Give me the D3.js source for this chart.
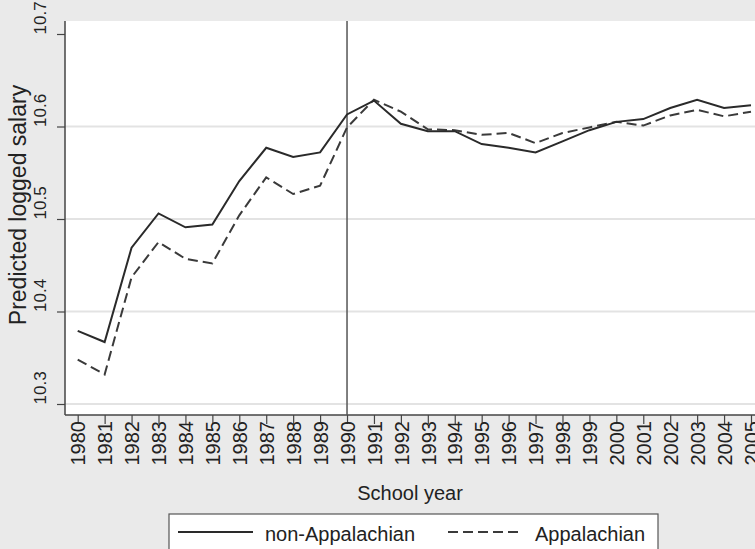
<!DOCTYPE html>
<meta charset="utf-8">
<script src="https://cdn.jsdelivr.net/npm/d3@7"></script>
<style type="text/css">
body { margin: 0; }
svg { display: block; font-family: "Liberation Sans", Arial, sans-serif; }
.grid line { stroke: #e3e3e3; stroke-width: 2; }
.line1 { fill: none; stroke: #2a2a2a; stroke-width: 2; }
.line2 { fill: none; stroke: #3a3a3a; stroke-width: 2; stroke-dasharray: 10,5; }
</style>
<body>
</body>
<script>
// data
var years = [1980,1981,1982,1983,1984,1985,1986,1987,1988,1989,1990,1991,1992,
             1993,1994,1995,1996,1997,1998,1999,2000,2001,2002,2003,2004,2005];
var nonAppalachian = [10.379,10.367,10.469,10.506,10.491,10.494,10.541,10.577,10.567,10.572,10.613,10.628,10.603,
                      10.595,10.595,10.581,10.577,10.572,10.584,10.596,10.605,10.608,10.620,10.629,10.620,10.623];
var appalachian = [10.348,10.332,10.437,10.475,10.457,10.452,10.504,10.545,10.527,10.536,10.599,10.629,10.616,
                   10.597,10.596,10.591,10.593,10.582,10.593,10.599,10.605,10.601,10.612,10.618,10.611,10.616];
var yTicks = [10.3, 10.4, 10.5, 10.6, 10.7];
var gridTicks = [10.3, 10.4, 10.5, 10.6];
var breakYear = 1990;
var legendKeys = ["non-Appalachian", "Appalachian"];

var width = 755, height = 549;
var plot = {left: 65, right: 755, top: 21, bottom: 415};

var xScale = d3.scaleLinear()
    .domain([1980, 2005])
    .range([77.7, 751]);

var yScale = d3.scaleLinear()
    .domain([10.3, 10.7])
    .range([404, 34]);

var svg = d3.select("body").append("svg")
    .attr("width", width)
    .attr("height", height);

svg.append("rect")
    .attr("width", width).attr("height", height)
    .attr("fill", "#eaeaea");

svg.append("rect")
    .attr("x", plot.left).attr("y", plot.top)
    .attr("width", plot.right - plot.left)
    .attr("height", plot.bottom - plot.top)
    .attr("fill", "#fff");

// horizontal grid
svg.append("g")
    .attr("class", "grid")
    .selectAll("line")
    .data(gridTicks)
    .enter().append("line")
    .attr("x1", plot.left).attr("x2", plot.right)
    .attr("y1", function(d) { return yScale(d); })
    .attr("y2", function(d) { return yScale(d); });

// y axis
var yAxis = svg.append("g")
    .attr("transform", "translate(" + plot.left + ",0)")
    .call(d3.axisLeft(yScale).tickValues(yTicks).tickSize(8).tickFormat(d3.format(".1f")));
yAxis.select(".domain").attr("d", "M0," + plot.top + "V" + plot.bottom).attr("stroke", "#444").attr("stroke-width", 1.5);
yAxis.selectAll(".tick line").attr("stroke", "#444").attr("stroke-width", 1.2);
yAxis.selectAll(".tick text")
    .attr("font-size", 17)
    .attr("fill", "#222")
    .attr("text-anchor", "start")
    .attr("x", 0).attr("dy", 0)
    .attr("transform", "translate(-19,0) rotate(-90)");

// x axis
var xAxis = svg.append("g")
    .attr("transform", "translate(0," + plot.bottom + ")")
    .call(d3.axisBottom(xScale).tickValues(years).tickSize(9).tickFormat(d3.format("d")));
xAxis.select(".domain").attr("d", "M" + plot.left + ",0H" + plot.right).attr("stroke", "#444").attr("stroke-width", 1.5);
xAxis.selectAll(".tick line").attr("stroke", "#444").attr("stroke-width", 1.2);
xAxis.selectAll(".tick text")
    .attr("font-size", 20)
    .attr("fill", "#222")
    .attr("text-anchor", "end")
    .attr("y", 0).attr("x", 0).attr("dy", "0.36em")
    .attr("transform", "translate(0,6) rotate(-90)");

// vertical line at 1990
svg.append("line")
    .attr("x1", xScale(breakYear)).attr("x2", xScale(breakYear))
    .attr("y1", plot.top).attr("y2", plot.bottom)
    .attr("stroke", "#555").attr("stroke-width", 1.5);

var line = d3.line()
    .x(function(d, i) { return xScale(years[i]); })
    .y(function(d) { return yScale(d); });

svg.append("path").datum(appalachian).attr("class", "line2").attr("d", line);
svg.append("path").datum(nonAppalachian).attr("class", "line1").attr("d", line);

// axis titles
svg.append("text")
    .text("Predicted logged salary")
    .attr("font-size", 23).attr("fill", "#222")
    .attr("text-anchor", "middle")
    .attr("transform", "translate(26,205) rotate(-90)");

svg.append("text")
    .text("School year")
    .attr("font-size", 20).attr("fill", "#222")
    .attr("text-anchor", "middle")
    .attr("x", 410).attr("y", 500);

// legend
svg.append("rect")
    .attr("x", 169).attr("y", 514)
    .attr("width", 489).attr("height", 50)
    .attr("fill", "#fff").attr("stroke", "#555").attr("stroke-width", 1.2);

var legendX = [178, 448];
var legend = svg.selectAll(".lineLegend").data(legendKeys)
    .enter().append("g")
    .attr("class", "lineLegend")
    .attr("transform", function(d, i) { return "translate(" + legendX[i] + ",532)"; });
legend.append("line")
    .attr("class", function(d, i) { return i == 0 ? "line1" : "line2"; })
    .attr("x1", 0).attr("x2", 75).attr("y1", 0).attr("y2", 0);
legend.append("text")
    .text(function(d) { return d; })
    .attr("font-size", 20).attr("fill", "#222")
    .attr("x", 87).attr("y", 9);
</script>
